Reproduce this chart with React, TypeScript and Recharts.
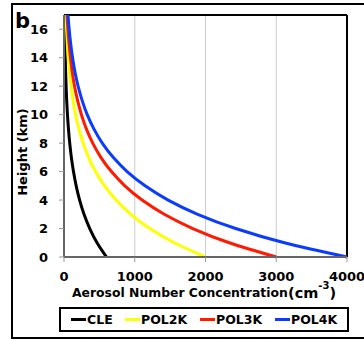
import React from 'react';
import { LineChart, Line, XAxis, YAxis, CartesianGrid, ReferenceLine } from 'recharts';

const heights = [0, 1, 2, 3, 4, 5, 6, 7, 8, 9, 10, 11, 12, 13, 14, 15, 16, 17];
const cle = [600, 467, 364, 283, 221, 172, 134, 104, 81, 63, 49, 38, 30, 23, 18, 14, 11, 8];
const pol2k = [2000, 1558, 1213, 945, 736, 573, 446, 348, 271, 211, 164, 128, 100, 77, 60, 47, 37, 29];
const pol3k = [3000, 2336, 1820, 1417, 1104, 860, 670, 521, 406, 316, 246, 192, 149, 116, 91, 71, 55, 43];
const pol4k = [4000, 3115, 2426, 1889, 1472, 1146, 892, 695, 541, 422, 328, 256, 199, 155, 121, 94, 73, 57];

const xTicks = [0, 1000, 2000, 3000, 4000];
const yTicks = [0, 2, 4, 6, 8, 10, 12, 14, 16];

const seriesNames = ['CLE', 'POL2K', 'POL3K', 'POL4K'];
const seriesColors = ['#000000', '#ffff00', '#ff1a00', '#0a3cff'];
const seriesValues = [cle, pol2k, pol3k, pol4k];

const data = heights.map((z, i) => {
  const row: Record<string, number> = { z };
  seriesNames.forEach((n, k) => {
    row[n] = seriesValues[k][i];
  });
  return row;
});

const FONT = 'DejaVu Sans';
const tickStyle = { fontSize: 13, fontWeight: 'bold', fill: '#000', fontFamily: FONT };

const legendLineX = [71, 125, 200, 275];

export default function App() {
  return (
    <div style={{ position: 'absolute', left: 0, top: 0, width: 364, height: 340, overflow: 'hidden', background: '#fff' }}>
      <div
        style={{
          position: 'absolute',
          left: 11,
          top: 3,
          width: 420,
          height: 336,
          border: '2px solid #000',
          boxSizing: 'border-box',
        }}
      />
      <div style={{ position: 'absolute', left: 0, top: 0 }}>
        <LineChart
          width={364}
          height={340}
          data={data}
          layout="vertical"
          margin={{ top: 15, right: 17, bottom: 53, left: 0 }}
        >
          <CartesianGrid horizontal={false} stroke="#cccccc" strokeWidth={1} />
          <XAxis
            type="number"
            domain={[0, 4000]}
            ticks={xTicks}
            height={30}
            tick={tickStyle}
            tickSize={5}
            tickMargin={10}
            axisLine={{ stroke: '#666', strokeWidth: 2 }}
            tickLine={{ stroke: '#999' }}
            interval={0}
          />
          <YAxis
            type="number"
            dataKey="z"
            domain={[0, 17]}
            ticks={yTicks}
            reversed
            width={64}
            tick={tickStyle}
            tickSize={5}
            tickMargin={11}
            axisLine={{ stroke: '#666', strokeWidth: 2 }}
            tickLine={{ stroke: '#999' }}
            interval={0}
          />
          <ReferenceLine y={17} stroke="#000" strokeWidth={2} />
          <ReferenceLine x={4000} stroke="#000" strokeWidth={2} />
          {seriesNames.map((n, k) => (
            <Line
              key={n}
              dataKey={n}
              type="monotone"
              stroke={seriesColors[k]}
              strokeWidth={3}
              dot={false}
              isAnimationActive={false}
            />
          ))}
        </LineChart>
      </div>
      <svg
        width={364}
        height={340}
        style={{ position: 'absolute', left: 0, top: 0, pointerEvents: 'none' }}
        fontFamily={FONT}
        fontWeight="bold"
      >
        <text x={15} y={28} fontSize={21} fill="#000">b</text>
        <text
          x={22.5}
          y={152}
          fontSize={13}
          textAnchor="middle"
          dominantBaseline="central"
          transform="rotate(-90 22.5 152)"
          fill="#000"
        >
          Height (km)
        </text>
        <text x={72} y={297} fontSize={12.4} fill="#000">Aerosol Number Concentration</text>
        <text x={288} y={298} fontSize={14.5} fill="#000">
          (cm<tspan dy={-9} fontSize={10}>-3</tspan><tspan dy={9}>)</tspan>
        </text>
        <rect x={60} y={308} width={288} height={23} fill="none" stroke="#000" strokeWidth={2} />
        {seriesNames.map((n, k) => (
          <g key={n}>
            <line
              x1={legendLineX[k]}
              x2={legendLineX[k] + 15}
              y1={319.5}
              y2={319.5}
              stroke={seriesColors[k]}
              strokeWidth={3}
            />
            <text x={legendLineX[k] + 16} y={324} fontSize={12.5} fill="#000">{n}</text>
          </g>
        ))}
      </svg>
    </div>
  );
}
